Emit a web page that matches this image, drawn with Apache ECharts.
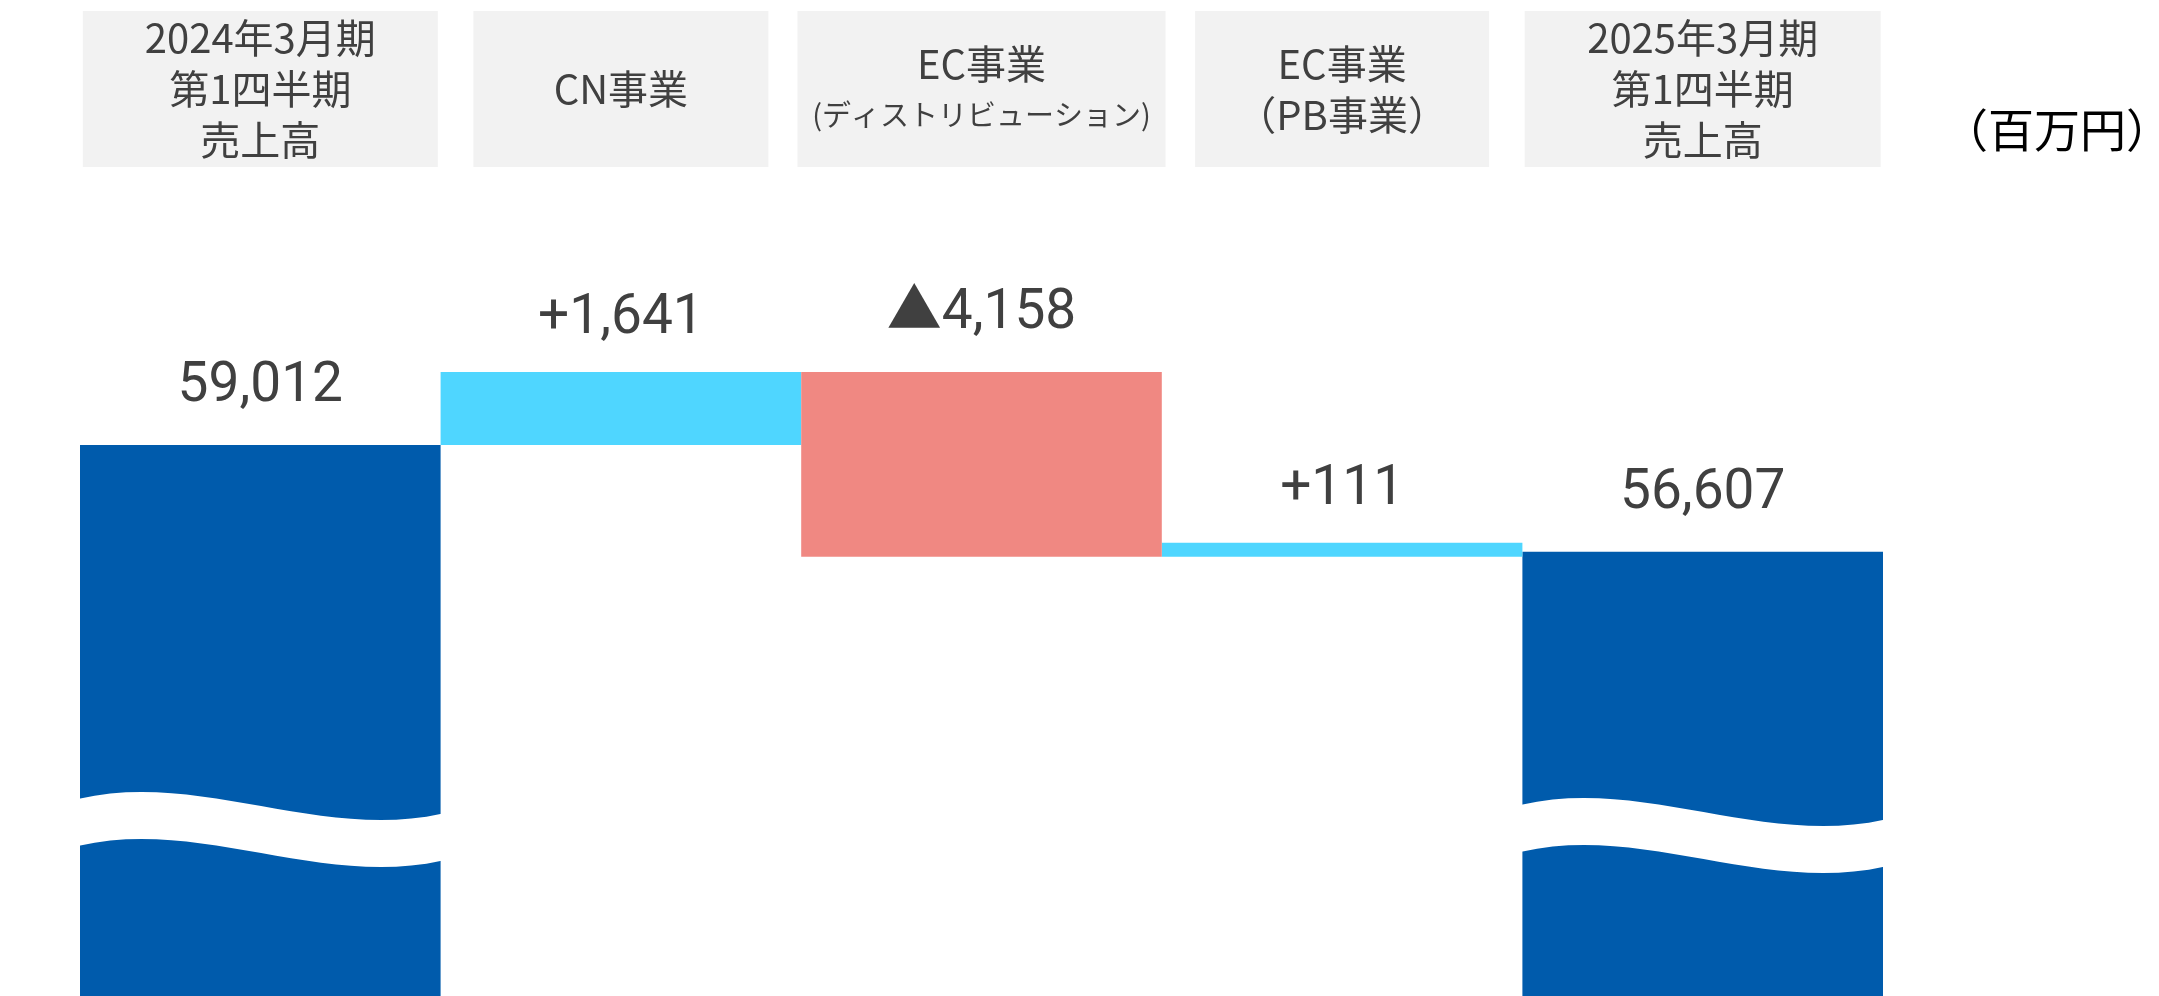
<!DOCTYPE html>
<html><head><meta charset="utf-8">
<script src="https://cdn.jsdelivr.net/npm/echarts@6/dist/echarts.min.js"></script>
<style>html,body{margin:0;padding:0;background:#fff;overflow:hidden}#c{width:2159px;height:996px}</style>
</head><body><div id="c"></div>
<script>
// ---- data ----
const categories = ['2024年3月期\n第1四半期\n売上高', 'CN事業', 'EC事業\n(ディストリビューション)', 'EC事業\n（PB事業）', '2025年3月期\n第1四半期\n売上高'];
const totals = [59012, null, null, null, 56607];
const changes = [null, 1641, -4158, 111, null];
const unitText = '（百万円）';

// ---- layout / style constants ----
const boxWidths = [355, 295, 368, 294, 356];
const BOX_H = 156, LINE_H = 51;
const TXT = '#404040';
const FONT_NUM = 'Roboto, "Noto Sans CJK JP", sans-serif';
const FONT_JP = '"Noto Sans CJK JP", sans-serif';

// ---- derived waterfall series ----
const base = [], up = [], down = [], totalData = [];
let running = 0;
categories.forEach((c, i) => {
  if (totals[i] != null) {
    base.push(0); up.push('-'); down.push('-'); totalData.push(totals[i]);
    running = totals[i];
  } else {
    const v = changes[i];
    totalData.push('-');
    if (v >= 0) { base.push(running); up.push(v); down.push('-'); running += v; }
    else { running += v; base.push(running); up.push('-'); down.push(-v); }
  }
});
const fmt = v => Math.abs(v).toLocaleString('en-US');
const breakItems = totals.map((v, i) => v != null ? [i, 0] : null).filter(Boolean);

const xData = categories.map((c, i) => {
  const n = c.split('\n').length;
  const pad = (BOX_H - n * LINE_H) / 2;
  return { value: c, textStyle: { width: boxWidths[i], padding: [pad, 0, pad, 0] } };
});

const chart = echarts.init(document.getElementById('c'), null, { renderer: 'canvas' });
chart.setOption({
  animation: false,
  backgroundColor: '#ffffff',
  title: {
    text: unitText, left: 1942, top: 107, padding: 0,
    textStyle: { fontFamily: FONT_JP, fontSize: 46, fontWeight: 'normal', color: '#000000' }
  },
  grid: { left: 80, width: 1803, top: 179, height: 818, containLabel: false },
  xAxis: {
    type: 'category', position: 'top', data: xData,
    axisLine: { show: false }, axisTick: { show: false },
    axisLabel: {
      interval: 0, margin: 12,
      color: TXT, fontFamily: FONT_JP, fontSize: 40, lineHeight: LINE_H,
      backgroundColor: '#f2f2f2', align: 'center',
      formatter: v => v.replace('(ディストリビューション)', '{s|(ディストリビューション)}'),
      rich: { s: { fontFamily: FONT_JP, fontSize: 29, lineHeight: LINE_H, color: TXT } }
    }
  },
  yAxis: { type: 'value', min: 46600, max: 65000, show: false, splitLine: { show: false } },
  series: [
    { name: 'base', type: 'bar', stack: 'w', data: base, barCategoryGap: '0%',
      itemStyle: { color: 'transparent' }, silent: true },
    { name: 'total', type: 'bar', stack: 'w', data: totalData, barCategoryGap: '0%',
      itemStyle: { color: '#005BAC' },
      label: { show: true, position: 'top', distance: 30, formatter: p => fmt(p.value),
        fontFamily: FONT_NUM, fontSize: 55, color: TXT } },
    { name: 'up', type: 'bar', stack: 'w', data: up, barCategoryGap: '0%', barMinHeight: 14,
      itemStyle: { color: '#4FD6FF' },
      label: { show: true, position: 'top', distance: 25, formatter: p => '+' + fmt(p.value),
        fontFamily: FONT_NUM, fontSize: 55, color: TXT } },
    { name: 'down', type: 'bar', stack: 'w', data: down, barCategoryGap: '0%',
      itemStyle: { color: '#F08882' },
      label: { show: true, position: 'top', distance: 30, formatter: p => '▲' + fmt(p.value),
        fontFamily: FONT_NUM, fontSize: 55, color: TXT } },
    { name: 'break', type: 'custom', data: breakItems, encode: { x: 0, y: 1 }, z: 10, silent: true, clip: false,
      renderItem: (params, api) => {
        const idx = api.value(0);
        const c = api.coord([idx, 50000]);
        const w = api.size([1, 0])[0];
        const x0 = c[0] - w / 2 - 1, x1 = c[0] + w / 2 + 1, ww = x1 - x0;
        const y0 = idx === 0 ? 801 : 807;
        const T = 47;
        const top = `M${x0},${y0} C${x0 + ww / 3},${y0 - 28} ${x0 + 2 * ww / 3},${y0 + 42} ${x1},${y0 + 15}`;
        const bot = `L${x1},${y0 + 15 + T} C${x0 + 2 * ww / 3},${y0 + 42 + T} ${x0 + ww / 3},${y0 - 28 + T} ${x0},${y0 + T} Z`;
        return { type: 'path', shape: { pathData: top + ' ' + bot, x: x0, y: y0 - 40, width: ww, height: T + 90 },
          style: { fill: '#ffffff' } };
      }
    }
  ]
});
</script></body></html>
